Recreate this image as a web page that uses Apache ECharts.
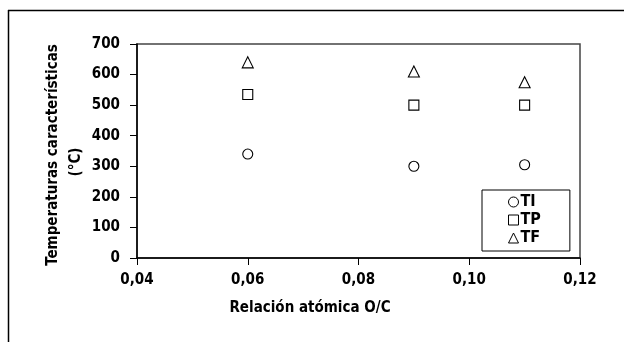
<!DOCTYPE html>
<html><head><meta charset="utf-8">
<script src="https://cdn.jsdelivr.net/npm/echarts@6/dist/echarts.min.js"></script>
<style>html,body{margin:0;padding:0;background:#fff}#c{width:624px;height:342px}</style>
</head><body><div id="c"></div>
<script>
const xValues = [0.06, 0.09, 0.11];
const TI = [340, 300, 305];
const TP = [535, 500, 500];
const TF = [640, 610, 575];
const seriesNames = ['TI', 'TP', 'TF'];
const yTicks = [0, 100, 200, 300, 400, 500, 600, 700];
const xTicks = [0.04, 0.06, 0.08, 0.10, 0.12];

const FONT = '"DejaVu Sans Condensed", "Liberation Sans Narrow", sans-serif';
const chart = echarts.init(document.getElementById('c'), null, {renderer: 'canvas'});
const pts = arr => xValues.map((x, i) => [x, arr[i]]);
const mk = (name, data, sym, size) => ({
  name, type: 'scatter', data: pts(data), symbol: sym, symbolSize: size,
  itemStyle: {color: '#fff', borderColor: '#000', borderWidth: 1.1, opacity: 1},
  emphasis: {disabled: true}
});
chart.setOption({
  animation: false,
  grid: {left: 137, top: 44, width: 443, height: 214, show: true, borderColor: '#444', borderWidth: 1.5, backgroundColor: 'transparent'},
  xAxis: {
    type: 'value', min: 0.04, max: 0.12, interval: 0.02,
    axisLine: {show: true, onZero: false, lineStyle: {color: '#000', width: 1.5}},
    axisTick: {show: true, length: 7, lineStyle: {color: '#000'}},
    splitLine: {show: false},
    axisLabel: {margin: 15, color: '#000', fontFamily: FONT, fontSize: 15, fontWeight: 'bold', formatter: v => v.toFixed(2).replace('.', ',')}
  },
  yAxis: {
    type: 'value', min: 0, max: 700, interval: 100,
    axisLine: {show: true, lineStyle: {color: '#000', width: 1.5}},
    axisTick: {show: true, length: 7, lineStyle: {color: '#000'}},
    splitLine: {show: false},
    axisLabel: {margin: 17, color: '#000', fontFamily: FONT, fontSize: 15, fontWeight: 'bold', formatter: v => yTicks.includes(v) ? String(v) : ''}
  },
  legend: {
    data: seriesNames, orient: 'vertical', left: 482, top: 190,
    padding: [4, 29, 5, 26], itemGap: 2, itemWidth: 10, itemHeight: 10,
    borderColor: '#000', borderWidth: 1, backgroundColor: '#fff',
    itemStyle: {borderWidth: 1},
    textStyle: {color: '#000', fontFamily: FONT, fontSize: 16, fontWeight: 'bold', lineHeight: 15, padding: [0, 0, 0, -3]},
    selectedMode: false
  },
  series: [mk('TI', TI, 'circle', 10), mk('TP', TP, 'rect', 10), mk('TF', TF, 'triangle', 11)],
  graphic: [
    {type: 'line', shape: {x1: 8, y1: 10.5, x2: 624, y2: 10.5}, style: {stroke: '#000', lineWidth: 1.5}},
    {type: 'line', shape: {x1: 8.5, y1: 10, x2: 8.5, y2: 342}, style: {stroke: '#000', lineWidth: 1.5}},
    {type: 'text', x: 310, y: 308, style: {text: 'Relación atómica O/C', fill: '#000', font: 'bold 15px ' + FONT, textAlign: 'center', textVerticalAlign: 'middle'}},
    {type: 'text', x: 53, y: 155, rotation: Math.PI / 2, style: {text: 'Temperaturas características', fill: '#000', font: 'bold 15px ' + FONT, textAlign: 'center', textVerticalAlign: 'middle'}},
    {type: 'text', x: 76, y: 162, rotation: Math.PI / 2, style: {text: '(°C)', fill: '#000', font: 'bold 15px ' + FONT, textAlign: 'center', textVerticalAlign: 'middle'}}
  ]
});
</script></body></html>
